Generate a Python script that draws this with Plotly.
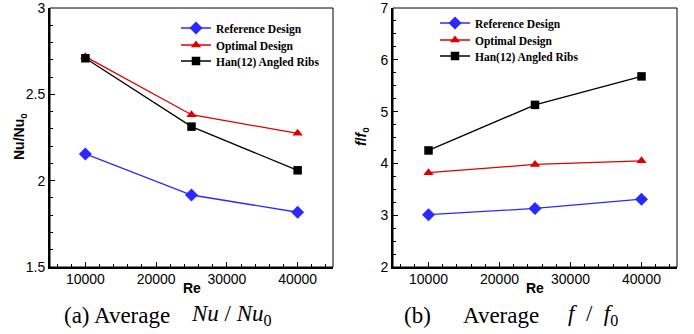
import plotly.graph_objects as go

re_vals = [10000, 25000, 40000]
series_names = ["Reference Design", "Optimal Design", "Han(12) Angled Ribs"]
nu_ref = [2.155, 1.917, 1.817]
nu_opt = [2.718, 2.382, 2.274]
nu_han = [2.709, 2.313, 2.060]
f_ref = [3.01, 3.13, 3.31]
f_opt = [3.82, 3.98, 4.05]
f_han = [4.25, 5.13, 5.68]
x_ticks = [10000, 20000, 30000, 40000]
x_tick_labels = ["10000", "20000", "30000", "40000"]

colors = ["#2a2aff", "#dd0000", "#000000"]
symbols = ["diamond", "triangle-up", "square"]
msizes = [10, 9, 8.5]

W, H = 694, 334

def px(sx):
    return sx / W

def py(sy):
    return 1 - sy / H

fig = go.Figure()

legend_rows_left = [28, 45, 61]
legend_rows_right = [23, 40, 56]

for i, ys in enumerate([nu_ref, nu_opt, nu_han]):
    fig.add_trace(go.Scatter(
        x=re_vals, y=ys, mode="lines+markers", name="<b>" + series_names[i] + "</b>",
        line=dict(color=colors[i], width=1.3),
        marker=dict(symbol=symbols[i], size=msizes[i], color=colors[i]),
        xaxis="x", yaxis="y", legend="legend" if i == 0 else "legend%d" % (i + 1)))
for i, ys in enumerate([f_ref, f_opt, f_han]):
    fig.add_trace(go.Scatter(
        x=re_vals, y=ys, mode="lines+markers", name="<b>" + series_names[i] + "</b>",
        line=dict(color=colors[i], width=1.3),
        marker=dict(symbol=symbols[i], size=msizes[i], color=colors[i]),
        xaxis="x2", yaxis="y2", legend="legend%d" % (i + 4)))

tickfont = dict(family="Liberation Sans, Arial", size=14, color="black")
ydom = [py(267), py(8)]
dom1 = [px(50), px(333)]
dom2 = [px(393), px(677)]

def xaxis_cfg(dom, anchor):
    return dict(domain=dom, anchor=anchor, range=[5000, 45000],
                tickvals=x_ticks, ticktext=x_tick_labels,
                ticks="inside", ticklen=5, tickwidth=1, tickcolor="black",
                minor=dict(ticks="inside", dtick=2000, ticklen=3, tickcolor="black", tickwidth=1),
                showline=True, linewidth=2, linecolor="black", showgrid=False, zeroline=False,
                tickfont=tickfont, automargin=False, ticklabeloverflow="allow",
                ticklabelstandoff=-2)

def yaxis_cfg(anchor, rng, dtick, mdtick):
    return dict(domain=ydom, anchor=anchor, range=rng, dtick=dtick,
                ticks="inside", ticklen=5, tickwidth=1, tickcolor="black",
                minor=dict(ticks="inside", dtick=mdtick, ticklen=3, tickcolor="black", tickwidth=1),
                showline=True, linewidth=2, linecolor="black", showgrid=False, zeroline=False,
                tickfont=tickfont, automargin=False, ticklabeloverflow="allow")

legfont = dict(family="Liberation Serif, Times New Roman", size=11.5, color="black")
layout_legends = {}
for k in range(6):
    key = "legend" if k == 0 else "legend%d" % (k + 1)
    if k < 3:
        lx, ly = 176, legend_rows_left[k]
    else:
        lx, ly = 435, legend_rows_right[k - 3]
    layout_legends[key] = dict(x=px(lx), y=py(ly), xanchor="left", yanchor="middle",
                               bgcolor="rgba(0,0,0,0)", font=legfont)

fig.update_layout(
    width=W, height=H, margin=dict(l=0, r=0, t=0, b=0),
    paper_bgcolor="white", plot_bgcolor="white",
    xaxis=xaxis_cfg(dom1, "y"),
    yaxis=yaxis_cfg("x", [1.5, 3.0], 0.5, 0.1),
    xaxis2=xaxis_cfg(dom2, "y2"),
    yaxis2=yaxis_cfg("x2", [2, 7], 1, 0.25),
    showlegend=True,
    **layout_legends,
)

# thin top/right frame
for xr, yr in [("x domain", "y domain"), ("x2 domain", "y2 domain")]:
    fig.add_shape(type="rect", xref=xr, yref=yr, x0=0, x1=1, y0=0, y1=1,
                  line=dict(color="black", width=1), layer="above")

labfont = dict(family="Liberation Sans, Arial", size=14, color="black")
ann = [
    dict(text="<b>Re</b>", x=(dom1[0] + dom1[1]) / 2, y=py(288)),
    dict(text="<b>Re</b>", x=(dom2[0] + dom2[1]) / 2, y=py(288)),
    dict(text="<b>Nu/Nu<sub>0</sub></b>", x=px(20), y=py(137), textangle=-90),
    dict(text="<b><i>f</i>/<i>f</i><sub>0</sub></b>", x=px(362), y=py(137), textangle=-90),
]
for a in ann:
    fig.add_annotation(xref="paper", yref="paper", showarrow=False,
                       xanchor="center", yanchor="middle", font=labfont, **a)

capfont = dict(family="Liberation Serif, Times New Roman", size=23, color="black")
captions = [
    ("(a) Average", 62),
    ("<i>Nu</i> / <i>Nu</i><sub>0</sub>", 189),
    ("(b)", 402),
    ("Average", 461),
    ("<i>f</i>\u00a0\u00a0/\u00a0\u00a0<i>f</i><sub>0</sub>", 566),
]
for txt, sx in captions:
    fig.add_annotation(xref="paper", yref="paper", showarrow=False, x=px(sx), y=py(315),
                       xanchor="left", yanchor="middle", font=capfont, text=txt)

fig.write_html("out.html", config={"displayModeBar": False},
               post_script="document.body.style.margin='0px';")
